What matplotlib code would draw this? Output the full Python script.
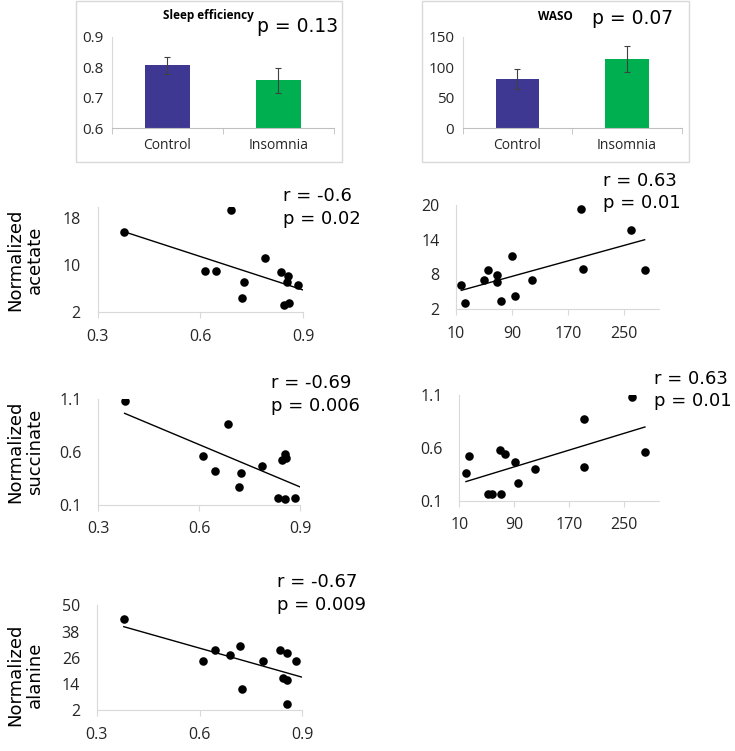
import matplotlib
matplotlib.use("Agg")
import matplotlib.pyplot as plt
from matplotlib.patches import Rectangle
import numpy as np

# ---------------- data ----------------
groups = ["Control", "Insomnia"]
se_means = [0.806, 0.757]
se_err = [0.027, 0.040]
waso_means = [80.5, 113.5]
waso_err = [16.0, 22.0]

se_acetate_x = [0.378, 0.689, 0.613, 0.646, 0.726, 0.721, 0.788, 0.836, 0.856, 0.854, 0.884, 0.845, 0.858]
se_acetate_y = [15.6, 19.4, 9.0, 9.0, 7.2, 4.5, 11.2, 8.8, 8.1, 7.2, 6.7, 3.2, 3.5]

waso_acetate_x = [17.6, 22.9, 50.5, 55.7, 68.1, 68.1, 74.3, 89.5, 93.8, 119.0, 189.0, 191.0, 260.0, 279.5]
waso_acetate_y = [6.13, 3.03, 7.05, 8.71, 7.9, 6.64, 3.38, 11.12, 4.35, 7.05, 19.3, 8.88, 15.6, 8.82]

se_succ_x = [0.378, 0.686, 0.610, 0.645, 0.723, 0.717, 0.786, 0.854, 0.844, 0.857, 0.832, 0.853, 0.883]
se_succ_y = [1.081, 0.869, 0.559, 0.420, 0.397, 0.265, 0.470, 0.578, 0.527, 0.546, 0.163, 0.157, 0.163]

waso_succ_x = [19.7, 24.5, 51.2, 58.0, 70.1, 69.1, 75.9, 90.5, 95.8, 119.6, 190.8, 191.8, 260.7, 280.0]
waso_succ_y = [0.363, 0.527, 0.160, 0.166, 0.166, 0.581, 0.543, 0.470, 0.265, 0.397, 0.872, 0.420, 1.081, 0.559]

se_ala_x = [0.379, 0.611, 0.646, 0.688, 0.718, 0.725, 0.786, 0.835, 0.855, 0.882, 0.845, 0.854, 0.855]
se_ala_y = [43.75, 24.4, 29.7, 27.3, 31.4, 11.6, 24.55, 29.6, 28.06, 24.55, 16.8, 15.7, 4.74]

se_ticks = [0.3, 0.6, 0.9]
waso_ticks = [10, 90, 170, 250]
acetate_ticks = [2, 10, 18]
acetate_ticks_w = [2, 8, 14, 20]
succ_ticks = [0.1, 0.6, 1.1]
ala_ticks = [2, 14, 26, 38, 50]

stats = {
    "a1": ("r = -0.6", "p = 0.02"),
    "a2": ("r = 0.63", "p = 0.01"),
    "s1": ("r = -0.69", "p = 0.006"),
    "s2": ("r = 0.63", "p = 0.01"),
    "l1": ("r = -0.67", "p = 0.009"),
}

# ---------------- layout helpers ----------------
W, H = 735, 751
fig = plt.figure(figsize=(W / 100, H / 100), dpi=100)
plt.rcParams['font.family'] = ['DejaVu Sans']

def ax_px(x0, x1, ytop, ybot):
    return fig.add_axes([x0 / W, 1 - ybot / H, (x1 - x0) / W, (ybot - ytop) / H])

def ftext(x, y, s, **kw):
    fig.text(x / W, 1 - y / H, s, **kw)

GRAY = '#D9D9D9'
PURPLE = '#3F3893'
GREEN = '#00B050'
TICKFONT = ['Open Sans', 'DejaVu Sans']

# ---------------- bar charts ----------------
def bar_chart(box, axbox, means, errs, ylim, yticks, yfmt, title, tpos, ptext, ppos):
    fx0, fx1, fy0, fy1 = box
    fig.patches.append(Rectangle((fx0 / W, 1 - fy1 / H), (fx1 - fx0) / W, (fy1 - fy0) / H,
                                 transform=fig.transFigure, fill=False, edgecolor=GRAY, lw=1))
    ax = ax_px(*axbox)
    ax.bar([0, 1], means, width=0.4, color=[PURPLE, GREEN], zorder=2)
    ax.errorbar([0, 1], means, yerr=errs, fmt='none', ecolor='#404040', elinewidth=0.8,
                capsize=2, capthick=0.8, zorder=3)
    ax.set_xlim(-0.5, 1.5)
    ax.set_ylim(*ylim)
    ax.set_yticks(yticks)
    ax.set_yticklabels([yfmt.format(v) for v in yticks], fontsize=11, color='#262626',
                       family=TICKFONT)
    ax.set_xticks([0, 1])
    ax.set_xticklabels(groups, fontsize=10, color='#262626', family=TICKFONT)
    ax.set_xticks([-0.5, 0.5, 1.5], minor=True)
    ax.tick_params(axis='x', which='major', length=0, pad=7)
    ax.tick_params(axis='x', which='minor', length=4, color='#BFBFBF', direction='out')
    ax.tick_params(axis='y', length=0, pad=6)
    for s in ['top', 'right']:
        ax.spines[s].set_visible(False)
    ax.spines['left'].set_color(GRAY)
    ax.spines['bottom'].set_color('#BFBFBF')
    ftext(tpos[0], tpos[1], title, fontsize=8.5, fontweight='bold', ha='center', va='center',
          family=TICKFONT)
    ftext(ppos[0], ppos[1], ptext, fontsize=13.5, ha='center', va='center')

bar_chart((76, 342, 1, 162), (111.7, 334, 36.7, 128.3), se_means, se_err, (0.6, 0.9),
          [0.6, 0.7, 0.8, 0.9], "{:.1f}", "Sleep efficiency", (208, 16), "p = 0.13", (297.5, 27))
bar_chart((422, 689, 1, 162), (462.7, 681.7, 36.7, 128.3), waso_means, waso_err, (0, 150),
          [0, 50, 100, 150], "{:.0f}", "WASO", (555, 16), "p = 0.07", (632.5, 19))

# ---------------- scatter plots ----------------
def scatter(axbox, xs, ys, xlim, xticks, xfmt, ylim, yticks, yfmt, line_to_axis, st, spos):
    ax = ax_px(*axbox)
    ax.scatter(xs, ys, s=38, color='black', zorder=3, linewidths=0)
    k, b = np.polyfit(xs, ys, 1)
    x0 = min(xs)
    x1 = xlim[1] if line_to_axis else max(xs)
    lx = np.array([x0, x1])
    ax.plot(lx, k * lx + b, color='black', lw=1.0, zorder=2)
    ax.set_xlim(*xlim)
    ax.set_ylim(*ylim)
    ax.set_xticks(xticks)
    ax.set_xticklabels([xfmt.format(v) for v in xticks], fontsize=11.5,
                       family=TICKFONT, color='#262626')
    ax.set_yticks(yticks)
    ax.set_yticklabels([yfmt.format(v) for v in yticks], fontsize=11.5,
                       family=TICKFONT, color='#262626')
    ax.tick_params(axis='x', length=4, color=GRAY, direction='out', pad=8)
    ax.tick_params(axis='y', length=0, pad=12)
    for s in ['top', 'right']:
        ax.spines[s].set_visible(False)
    ax.spines['left'].set_color(GRAY)
    ax.spines['bottom'].set_color(GRAY)
    for sp in ['left', 'bottom']:
        ax.spines[sp].set_clip_on(False)
    ftext(spos[0], spos[1], st[0], fontsize=13, ha='left', va='center')
    ftext(spos[0], spos[1] + 22.5, st[1], fontsize=13, ha='left', va='center')
    return ax

scatter((97.5, 303.2, 206.5, 312.3), se_acetate_x, se_acetate_y, (0.3, 0.9), se_ticks, "{:.1f}",
        (2, 20), acetate_ticks, "{:.0f}", True, stats["a1"], (283, 196))
scatter((456, 659, 204.7, 309.3), waso_acetate_x, waso_acetate_y, (10, 300), waso_ticks, "{:.0f}",
        (2, 20), acetate_ticks_w, "{:.0f}", False, stats["a2"], (603, 181))
scatter((98.3, 300.5, 399.3, 504.7), se_succ_x, se_succ_y, (0.3, 0.9), se_ticks, "{:.1f}",
        (0.1, 1.1), succ_ticks, "{:.1f}", True, stats["s1"], (270.7, 383.3))
scatter((459.3, 658.7, 395.3, 500.7), waso_succ_x, waso_succ_y, (10, 300), waso_ticks, "{:.0f}",
        (0.1, 1.1), succ_ticks, "{:.1f}", False, stats["s2"], (654, 379))
scatter((96.7, 302.3, 605.3, 710.3), se_ala_x, se_ala_y, (0.3, 0.9), se_ticks, "{:.1f}",
        (2, 50), ala_ticks, "{:.0f}", True, stats["l1"], (277.3, 582))

# y labels
for txt, yc in [("Normalized\nacetate", 260), ("Normalized\nsuccinate", 452), ("Normalized\nalanine", 675)]:
    ftext(25, yc, txt, fontsize=13, rotation=90, ha='center', va='center',
          multialignment='center', linespacing=1.1)

fig.savefig("out.png", dpi=100)
